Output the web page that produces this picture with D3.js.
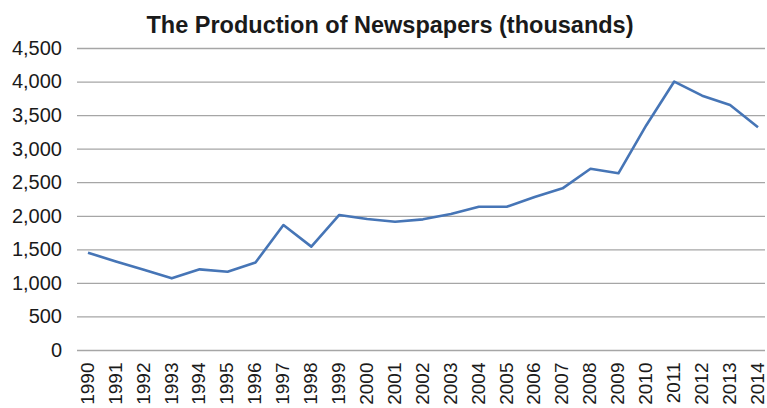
<!DOCTYPE html>
<html>
<head>
<meta charset="utf-8">
<script src="https://cdn.jsdelivr.net/npm/d3@7"></script>
<style>
  html, body { margin: 0; padding: 0; background: #fff; }
  svg { display: block; }
  text { font-family: "Liberation Sans", Arial, Helvetica, sans-serif; fill: #1a1a1a; }
</style>
</head>
<body>
<svg id="chart" width="767" height="408"></svg>
<script>
// Newspaper production by year, in thousands
const years = ["1990","1991","1992","1993","1994","1995","1996","1997","1998","1999",
               "2000","2001","2002","2003","2004","2005","2006","2007","2008","2009",
               "2010","2011","2012","2013","2014"];
const production = [1450, 1320, 1195, 1068, 1202, 1167, 1303, 1862, 1540, 2012,
                    1952, 1912, 1947, 2026, 2135, 2135, 2280, 2409, 2701, 2633,
                    3350, 4000, 3790, 3650, 3318];
const yTicks = [0, 500, 1000, 1500, 2000, 2500, 3000, 3500, 4000, 4500];
const title = "The Production of Newspapers (thousands)";

const svg = d3.select("#chart");
const plot = { left: 77, right: 765, top: 48, bottom: 350 };

const x = d3.scalePoint().domain(years).range([88, 758]);
const y = d3.scaleLinear().domain([0, 4500]).range([plot.bottom, plot.top]);

// Title
svg.append("text")
  .attr("x", 390).attr("y", 33)
  .attr("text-anchor", "middle")
  .style("font-size", "23.5px").style("font-weight", "bold")
  .text(title);

// Horizontal gridlines with value labels
const yAxis = d3.axisLeft(y).tickValues(yTicks)
  .tickFormat(d3.format(","))
  .tickSize(-(plot.right - plot.left)).tickPadding(15);
const gy = svg.append("g").attr("transform", `translate(${plot.left},0)`).call(yAxis);
gy.select(".domain").remove();
gy.selectAll(".tick line").attr("stroke", "#a6a6a6").attr("stroke-width", 1.3);
gy.selectAll(".tick text").style("font-size", "20px").attr("fill", "#1a1a1a");

// Year labels, rotated to read upward
const xAxis = d3.axisBottom(x).tickSize(0).tickPadding(0);
const gx = svg.append("g").attr("transform", `translate(0,${plot.bottom})`).call(xAxis);
gx.select(".domain").remove();
gx.selectAll(".tick text")
  .style("font-size", "19px").attr("fill", "#1a1a1a")
  .attr("transform", "rotate(-90)")
  .attr("text-anchor", "end")
  .attr("x", -12.5).attr("y", 0).attr("dy", "0.28em");

// Production line
const line = d3.line().x((d, i) => x(years[i])).y(d => y(d));
svg.append("path")
  .datum(production)
  .attr("fill", "none")
  .attr("stroke", "#4675b6")
  .attr("stroke-width", 2.6)
  .attr("stroke-linejoin", "round")
  .attr("d", line);
</script>
</body>
</html>
